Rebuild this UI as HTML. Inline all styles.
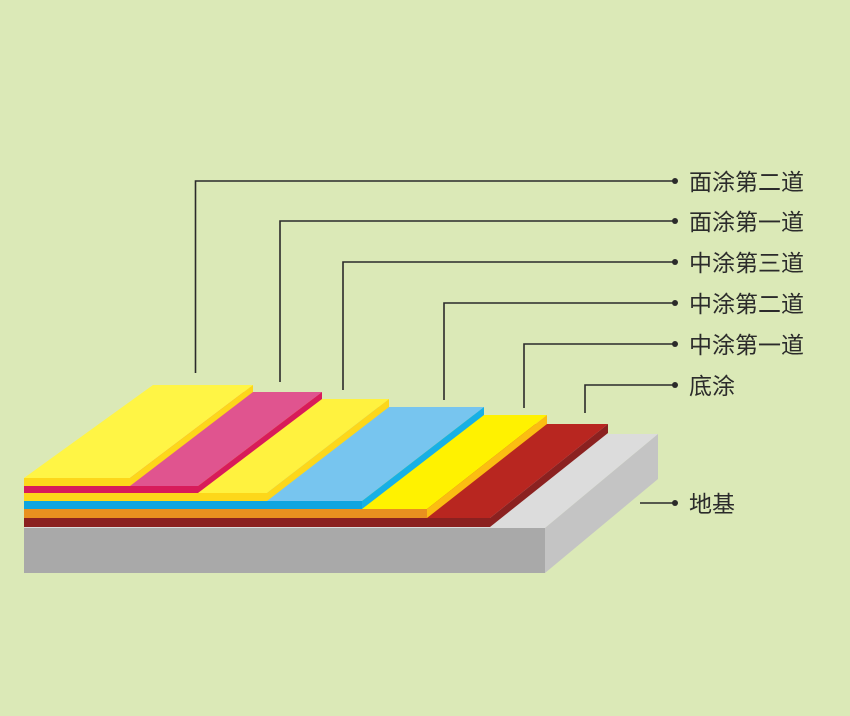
<!DOCTYPE html>
<html><head><meta charset="utf-8"><style>
html,body{margin:0;padding:0;background:#dbe9b7;}
svg{display:block;}
text{font-family:"Liberation Sans","Noto Sans CJK SC",sans-serif;font-size:23px;fill:#2b2b2b;}
</style></head><body>
<svg width="850" height="716" viewBox="0 0 850 716" xmlns="http://www.w3.org/2000/svg">
<rect width="850" height="716" fill="#dbe9b7"/>
<polygon points="24,528 545,528 658,434 137,434" fill="#dcdcdc"/>
<rect x="24" y="528" width="521" height="45" fill="#a9a9a9"/>
<polygon points="545,528 658,434 658,479 545,573" fill="#c4c4c4"/>
<polygon points="24,518 490,518 608,424 154,424" fill="#b82620"/>
<rect x="24" y="518" width="466" height="9" fill="#8b2120"/>
<polygon points="490,518 608,424 608,433 490,527" fill="#8b2120"/>
<polygon points="24,509 427,509 547,415 154,415" fill="#fff200"/>
<rect x="24" y="509" width="403" height="9" fill="#e9901f"/>
<polygon points="427,509 547,415 547,424 427,518" fill="#fbbd12"/>
<polygon points="24,501 362,501 484,407 154,407" fill="#77c5ef"/>
<rect x="24" y="501" width="338" height="8" fill="#0ea5e0"/>
<polygon points="362,501 484,407 484,415 362,509" fill="#17b0e6"/>
<polygon points="24,493 267,493 389,399 154,399" fill="#fff23f"/>
<rect x="24" y="493" width="243" height="8" fill="#fdd71a"/>
<polygon points="267,493 389,399 389,407 267,501" fill="#fdd71a"/>
<polygon points="24,486 198,486 322,392 154,392" fill="#e0548f"/>
<rect x="24" y="486" width="174" height="7" fill="#d81b5a"/>
<polygon points="198,486 322,392 322,399 198,493" fill="#d81b5a"/>
<polygon points="24,478 130,478 253,385 153,385" fill="#fff545"/>
<rect x="24" y="478" width="106" height="8" fill="#fdd71a"/>
<polygon points="130,478 253,385 253,392 130,486" fill="#fdd71a"/>
<g fill="none" stroke="#2b2b2b" stroke-width="1.6">
<polyline points="195.5,373 195.5,181 675,181"/>
<polyline points="280,382 280,221 675,221"/>
<polyline points="343,390 343,262 675,262"/>
<polyline points="444,400 444,303 675,303"/>
<polyline points="524,408 524,344 675,344"/>
<polyline points="585,413 585,385 675,385"/>
<polyline points="640,503 675,503"/>
</g>
<g fill="#2b2b2b">
<circle cx="675" cy="181" r="3"/><circle cx="675" cy="221" r="3"/><circle cx="675" cy="262" r="3"/>
<circle cx="675" cy="303" r="3"/><circle cx="675" cy="344" r="3"/><circle cx="675" cy="385" r="3"/>
<circle cx="675" cy="503" r="3"/>
</g>
<text x="689" y="190">面涂第二道</text>
<text x="689" y="230">面涂第一道</text>
<text x="689" y="271">中涂第三道</text>
<text x="689" y="312">中涂第二道</text>
<text x="689" y="353">中涂第一道</text>
<text x="689" y="394">底涂</text>
<text x="689" y="512">地基</text>
</svg>
</body></html>
